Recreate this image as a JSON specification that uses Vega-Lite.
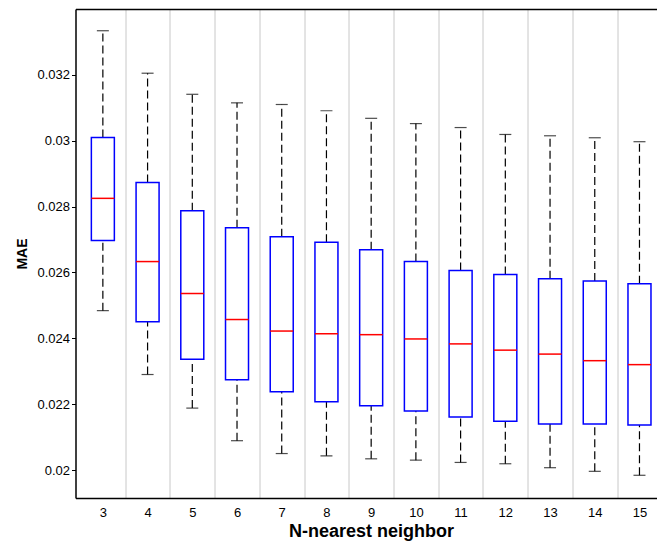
{
  "$schema": "https://vega.github.io/schema/vega-lite/v6.json",
  "autosize": {"type": "none"},
  "padding": {"left": 75.5, "top": 9, "right": 0, "bottom": 43},
  "width": 581.5,
  "height": 489,
  "background": "white",
  "config": {
    "font": "Liberation Sans",
    "view": {"stroke": null},
    "axis": {"labelColor": "#000", "titleColor": "#000", "domainColor": "#000", "domainWidth": 1.5, "tickColor": "#000"}
  },
  "data": {
    "values": [
      {"n": 3, "lo": 0.02484, "q1": 0.02697, "med": 0.02825, "q3": 0.0301, "hi": 0.03334},
      {"n": 4, "lo": 0.0229, "q1": 0.0245, "med": 0.02633, "q3": 0.02873, "hi": 0.03205},
      {"n": 5, "lo": 0.02188, "q1": 0.02336, "med": 0.02536, "q3": 0.02787, "hi": 0.03141},
      {"n": 6, "lo": 0.02089, "q1": 0.02274, "med": 0.02457, "q3": 0.02736, "hi": 0.03115},
      {"n": 7, "lo": 0.0205, "q1": 0.02238, "med": 0.02422, "q3": 0.02708, "hi": 0.0311},
      {"n": 8, "lo": 0.02043, "q1": 0.02207, "med": 0.02414, "q3": 0.02692, "hi": 0.03091},
      {"n": 9, "lo": 0.02034, "q1": 0.02195, "med": 0.02411, "q3": 0.02669, "hi": 0.03068},
      {"n": 10, "lo": 0.0203, "q1": 0.02179, "med": 0.02398, "q3": 0.02633, "hi": 0.03052},
      {"n": 11, "lo": 0.02023, "q1": 0.02161, "med": 0.02383, "q3": 0.02606, "hi": 0.0304},
      {"n": 12, "lo": 0.02019, "q1": 0.02148, "med": 0.02364, "q3": 0.02594, "hi": 0.03019},
      {"n": 13, "lo": 0.02007, "q1": 0.0214, "med": 0.02352, "q3": 0.02581, "hi": 0.03015},
      {"n": 14, "lo": 0.01996, "q1": 0.0214, "med": 0.02332, "q3": 0.02574, "hi": 0.03009},
      {"n": 15, "lo": 0.01984, "q1": 0.02137, "med": 0.0232, "q3": 0.02566, "hi": 0.02997}
    ]
  },
  "resolve": {"axis": {"x": "independent"}},
  "layer": [
    {
      "mark": {"type": "rule", "color": "#000", "strokeWidth": 1.2, "strokeDash": [8, 4]},
      "encoding": {
        "x": {
          "field": "n", "type": "quantitative",
          "scale": {"domain": [2.5, 15.28], "nice": false, "zero": false},
          "axis": {
            "orient": "bottom",
            "values": [3, 3.5, 4, 4.5, 5, 5.5, 6, 6.5, 7, 7.5, 8, 8.5, 9, 9.5, 10, 10.5, 11, 11.5, 12, 12.5, 13, 13.5, 14, 14.5, 15],
            "labelExpr": "datum.value % 1 === 0 ? '' + datum.value : ''",
            "labelOverlap": false,
            "labelBound": false,
            "labelFlush": false,
            "labelFontSize": 13,
            "labelPadding": 8,
            "ticks": false,
            "tickSize": 0,
            "grid": true,
            "gridColor": "#c8c8c8",
            "gridWidth": 1,
            "gridOpacity": {"condition": {"test": "datum.value % 1 !== 0", "value": 1}, "value": 0},
            "title": "N-nearest neighbor",
            "titleFontSize": 18,
            "titleFontWeight": "bold",
            "titlePadding": 3,
            "titleX": 295.5
          }
        },
        "y": {
          "field": "lo", "type": "quantitative",
          "scale": {"domain": [0.01915, 0.034], "nice": false, "zero": false},
          "axis": {
            "values": [0.02, 0.022, 0.024, 0.026, 0.028, 0.03, 0.032],
            "format": ".3~f",
            "grid": false,
            "labelFontSize": 13,
            "tickSize": 4,
            "labelPadding": 2,
            "title": "MAE",
            "titleFontSize": 14,
            "titleFontWeight": "bold",
            "titlePadding": 7
          }
        },
        "y2": {"field": "q1"}
      }
    },
    {
      "mark": {"type": "rule", "color": "#000", "strokeWidth": 1.2, "strokeDash": [8, 4]},
      "encoding": {
        "x": {
          "field": "n", "type": "quantitative",
          "axis": {"orient": "top", "labels": false, "ticks": false, "grid": false, "title": null, "domain": true}
        },
        "y": {"field": "q3", "type": "quantitative"},
        "y2": {"field": "hi"}
      }
    },
    {
      "mark": {"type": "tick", "orient": "horizontal", "color": "#000", "size": 12, "thickness": 1.2},
      "encoding": {
        "x": {"field": "n", "type": "quantitative", "axis": null},
        "y": {"field": "lo", "type": "quantitative"}
      }
    },
    {
      "mark": {"type": "tick", "orient": "horizontal", "color": "#000", "size": 12, "thickness": 1.2},
      "encoding": {
        "x": {"field": "n", "type": "quantitative", "axis": null},
        "y": {"field": "hi", "type": "quantitative"}
      }
    },
    {
      "mark": {"type": "bar", "fill": "white", "stroke": "#0000ff", "strokeWidth": 1.5, "size": 23},
      "encoding": {
        "x": {"field": "n", "type": "quantitative", "axis": null},
        "y": {"field": "q1", "type": "quantitative"},
        "y2": {"field": "q3"}
      }
    },
    {
      "mark": {"type": "tick", "orient": "horizontal", "color": "#ff0000", "size": 23, "thickness": 1.5, "opacity": 1},
      "encoding": {
        "x": {"field": "n", "type": "quantitative", "axis": null},
        "y": {"field": "med", "type": "quantitative"}
      }
    }
  ]
}
